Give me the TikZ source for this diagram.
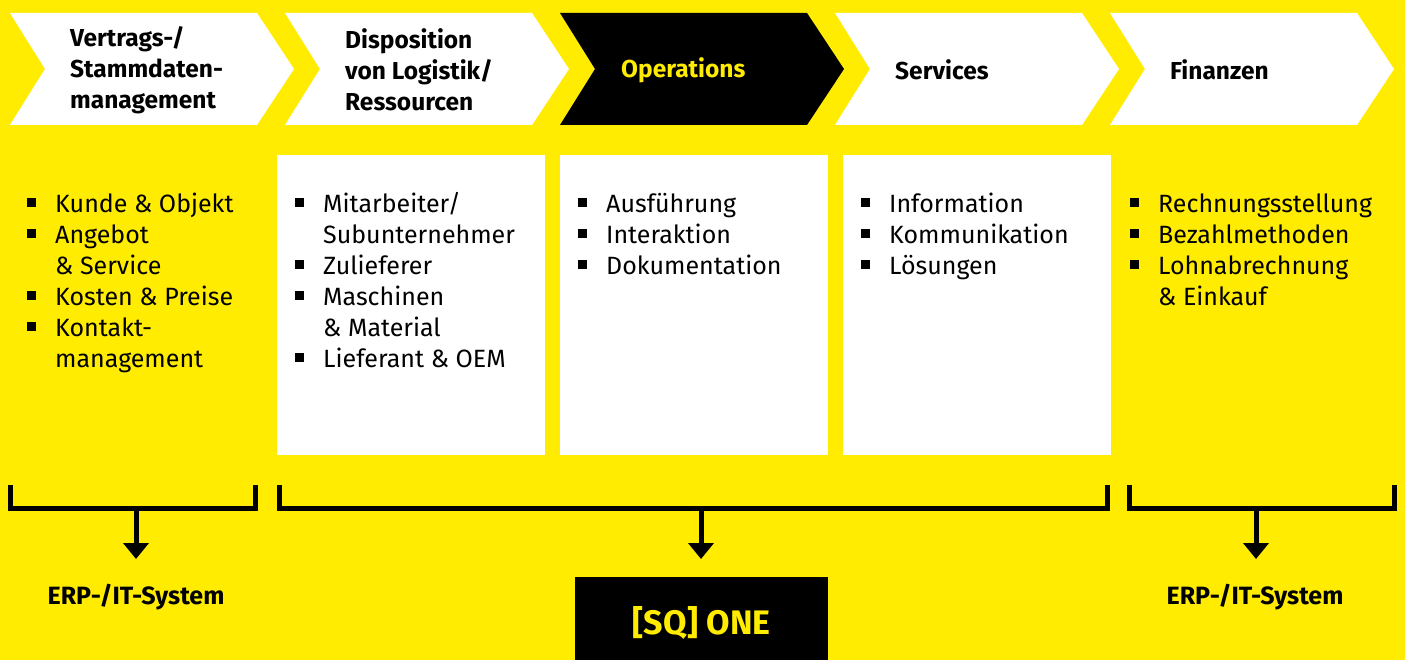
\documentclass[tikz,border=0pt]{standalone}
\usepackage{fontspec}
\setmainfont{Fira Sans}
\usetikzlibrary{arrows.meta}
\definecolor{sqyellow}{HTML}{FFEC00}
\newcommand{\bsq}{\rule[6pt]{9pt}{9pt}}
\begin{document}
\begin{tikzpicture}[x=1pt,y=-1pt,
  title/.style={anchor=west, align=left, inner sep=0pt, font=\fontsize{24.5}{31}\selectfont\bfseries},
  items/.style={anchor=base west, inner sep=0pt, font=\fontsize{25}{31}\selectfont},
  whitebox/.style={fill=white, anchor=north west, inner sep=0pt, minimum width=268pt, minimum height=300pt},
  bracket/.style={line width=5pt, line join=miter, line cap=butt},
  arr/.style={line width=5pt, line cap=butt, -{Triangle[width=25pt,length=16pt]}},
  erp/.style={inner sep=0pt, font=\fontsize{25}{28}\selectfont\bfseries}]
\fill[sqyellow] (0,0) rectangle (1405,660);
\useasboundingbox (0,0) rectangle (1405,660);
% chevrons
\foreach \x/\c in {10/white,285/white,560/black,835/white,1110/white}
  \fill[\c] (\x,13) -- (\x+247,13) -- (\x+284,69) -- (\x+247,125) -- (\x,125) -- (\x+35,69) -- cycle;
\node[title] (t1) at (70,70) {Vertrags-/\\Stammdaten-\\management};
\node[title] (t2) at (345,70) {Disposition\\von Logistik/\\Ressourcen};
\node[title, text=sqyellow] (t3) at (621,70) {Operations};
\node[title] (t4) at (895,70) {Services};
\node[title] (t5) at (1170,70) {Finanzen};
% white boxes
\node[whitebox] (box2) at (277,155) {};
\node[whitebox] (box3) at (560,155) {};
\node[whitebox] (box4) at (843,155) {};
% lists
\node[items] (l1) at (27,213) {\begin{tabular}[t]{@{}p{9pt}@{\hspace{19pt}}l@{}}
\bsq & Kunde \& Objekt\\ \bsq & Angebot\\ & \& Service\\ \bsq & Kosten \& Preise\\ \bsq & Kontakt-\\ & management\end{tabular}};
\node[items] (l2) at (295,213) {\begin{tabular}[t]{@{}p{9pt}@{\hspace{19pt}}l@{}}
\bsq & Mitarbeiter/\\ & Subunternehmer\\ \bsq & Zulieferer\\ \bsq & Maschinen\\ & \& Material\\ \bsq & Lieferant \& OEM\end{tabular}};
\node[items] (l3) at (578,213) {\begin{tabular}[t]{@{}p{9pt}@{\hspace{19pt}}l@{}}
\bsq & Ausführung\\ \bsq & Interaktion\\ \bsq & Dokumentation\end{tabular}};
\node[items] (l4) at (861,213) {\begin{tabular}[t]{@{}p{9pt}@{\hspace{19pt}}l@{}}
\bsq & Information\\ \bsq & Kommunikation\\ \bsq & Lösungen\end{tabular}};
\node[items] (l5) at (1130,213) {\begin{tabular}[t]{@{}p{9pt}@{\hspace{19pt}}l@{}}
\bsq & Rechnungsstellung\\ \bsq & Bezahlmethoden\\ \bsq & Lohnabrechnung\\ & \& Einkauf\end{tabular}};
% brackets
\draw[bracket] (10.5,485) -- (10.5,508) -- (255.5,508) -- (255.5,485);
\draw[bracket] (279.5,485) -- (279.5,508) -- (1107.5,508) -- (1107.5,485);
\draw[bracket] (1129.5,485) -- (1129.5,508) -- (1394.5,508) -- (1394.5,485);
\coordinate (m1) at (136,508); \coordinate (a1) at (136,559);
\coordinate (m2) at (701,508); \coordinate (a2) at (701,559);
\coordinate (m3) at (1256,508); \coordinate (a3) at (1256,559);
\draw[arr] (m1) -- (a1);
\draw[arr] (m2) -- (a2);
\draw[arr] (m3) -- (a3);
% targets
\node[erp] (erp1) at (136,597) {ERP-/IT-System};
\node[erp] (erp2) at (1255,597) {ERP-/IT-System};
\node[fill=black, anchor=north west, inner sep=0pt, minimum width=253pt, minimum height=92pt] (sqbox) at (575,577) {};
\node[inner sep=0pt, text=sqyellow, font=\fontsize{34}{40}\selectfont\bfseries] (sq) at (sqbox.center) {[SQ] ONE};
\end{tikzpicture}
\end{document}
